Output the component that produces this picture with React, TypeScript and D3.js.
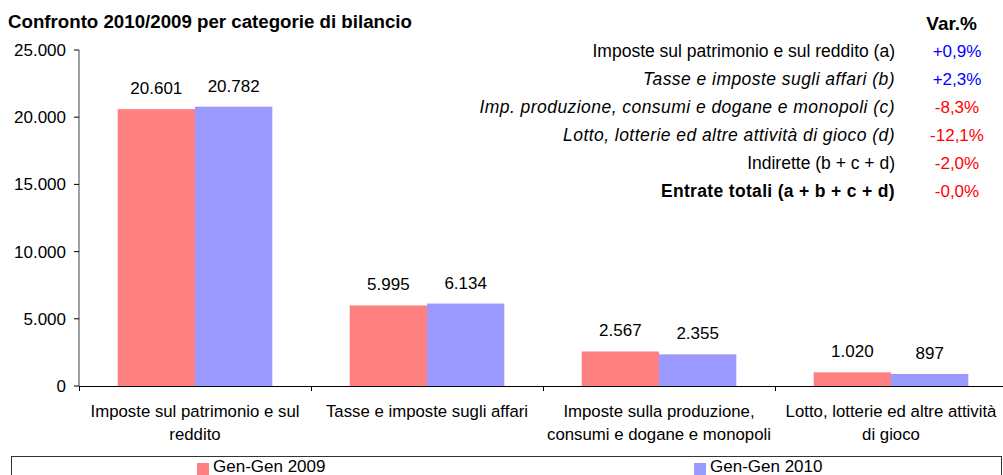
import React from "react";
import * as d3 from "d3";

const categories = [
  ["Imposte sul patrimonio e sul", "reddito"],
  ["Tasse e imposte sugli affari"],
  ["Imposte sulla produzione,", "consumi e dogane e monopoli"],
  ["Lotto, lotterie ed altre attività", "di gioco"],
];
const series2009 = [20601, 5995, 2567, 1020];
const series2010 = [20782, 6134, 2355, 897];
const seriesNames = ["Gen-Gen 2009", "Gen-Gen 2010"];
const yTicks = [0, 5000, 10000, 15000, 20000, 25000];
const tableLabels = [
  "Imposte sul patrimonio e sul reddito (a)",
  "Tasse e imposte sugli affari (b)",
  "Imp. produzione, consumi e dogane e monopoli (c)",
  "Lotto, lotterie ed altre attività di gioco (d)",
  "Indirette (b + c + d)",
  "Entrate totali (a + b + c + d)",
];
const tableStyles = ["normal", "italic", "italic", "italic", "normal", "bold"];
const tableValues = ["+0,9%", "+2,3%", "-8,3%", "-12,1%", "-2,0%", "-0,0%"];

const RED = "#FF8080";
const BLUE = "#9999FF";
const FONT = "'Liberation Sans', Arial, sans-serif";
const fmt = (v: number) => d3.format(",")(v).replace(/,/g, ".");

export default function App() {
  const W = 1003, H = 475;
  const x0 = 79, x1 = 79 + 4 * 232;
  const yTop = 50, yBot = 386;
  const x = d3.scaleBand<number>().domain([0, 1, 2, 3]).range([x0, x1]);
  const y = d3.scaleLinear().domain([0, 25000]).range([yBot, yTop]);
  const bw = x.bandwidth() / 3;
  const series = [series2009, series2010];
  const colors = [RED, BLUE];
  return (
    <svg width={W} height={H} style={{ position: "absolute", left: 0, top: 0, fontFamily: FONT }}>
      <rect x={0} y={0} width={W} height={H} fill="#fff" />
      <text x={8} y={28} fontSize={18.7} fontWeight="bold" fill="#000">Confronto 2010/2009 per categorie di bilancio</text>
      <text x={977} y={30} fontSize={19} fontWeight="bold" textAnchor="end" fill="#000">Var.%</text>
      {/* bars */}
      {series.map((s, si) =>
        s.map((v, i) => {
          const bx = (x(i) as number) + bw / 2 + si * bw;
          return (
            <g key={`b${si}-${i}`}>
              <rect x={bx} y={y(v)} width={bw} height={y(0) - y(v)} fill={colors[si]} />
              <text x={bx + bw / 2} y={y(v) - 15} fontSize={17} textAnchor="middle" fill="#000">{fmt(v)}</text>
            </g>
          );
        })
      )}
      {/* y axis */}
      <line x1={x0} x2={x0} y1={yTop} y2={yBot} stroke="#808080" strokeWidth={1.5} />
      {yTicks.map((t) => (
        <g key={t}>
          <line x1={x0 - 5} x2={x0} y1={y(t)} y2={y(t)} stroke="#000" />
          <text x={x0 - 13} y={y(t) + 6} fontSize={17} textAnchor="end" fill="#000">{fmt(t)}</text>
        </g>
      ))}
      {/* x axis */}
      <line x1={x0} x2={W} y1={yBot + 0.5} y2={yBot + 0.5} stroke="#000" />
      {[0, 1, 2, 3].map((i) => (
        <line key={i} x1={(x(i) as number) + 0.5} x2={(x(i) as number) + 0.5} y1={yBot} y2={yBot + 5} stroke="#000" />
      ))}
      {categories.map((lines, i) =>
        lines.map((l, li) => (
          <text key={`c${i}-${li}`} x={(x(i) as number) + x.bandwidth() / 2} y={417 + li * 23} fontSize={16.8} textAnchor="middle" fill="#000">{l}</text>
        ))
      )}
      {/* table */}
      {tableLabels.map((l, i) => (
        <g key={`t${i}`}>
          <text x={895} y={57 + i * 28} fontSize={17.5} textAnchor="end"
            fontStyle={tableStyles[i] === "italic" ? "italic" : "normal"}
            fontWeight={tableStyles[i] === "bold" ? "bold" : "normal"}
            letterSpacing={tableStyles[i] === "italic" ? 0.45 : tableStyles[i] === "bold" ? 0.33 : 0}
            fill="#000">{l}</text>
          <text x={957} y={57 + i * 28} fontSize={17} textAnchor="middle" fill={tableValues[i].startsWith("+") ? "#0000FF" : "#FF0000"}>{tableValues[i]}</text>
        </g>
      ))}
      {/* legend */}
      <rect x={11.5} y={456.5} width={990} height={30} fill="none" stroke="#333" />
      {seriesNames.map((n, i) => {
        const lx = i === 0 ? 197 : 694;
        return (
          <g key={n}>
            <rect x={lx} y={463} width={12} height={12} fill={colors[i]} />
            <text x={lx + 16} y={472} fontSize={17} fill="#000">{n}</text>
          </g>
        );
      })}
    </svg>
  );
}
